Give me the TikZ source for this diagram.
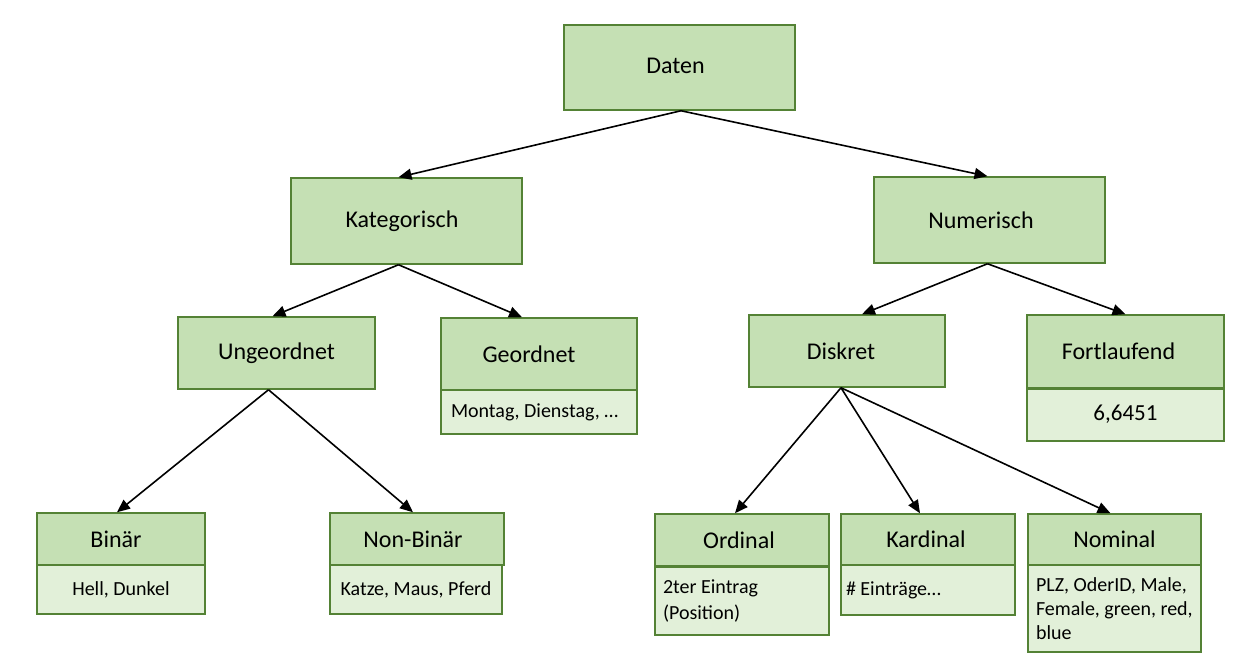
\documentclass[tikz,border=0pt]{standalone}
\usepackage{fontspec}
\setmainfont{Carlito}
\usetikzlibrary{arrows.meta}
\definecolor{boxfill}{HTML}{C5E0B4}
\definecolor{subfill}{HTML}{E2F0D9}
\definecolor{boxline}{HTML}{548235}
\newcommand\normspace{\spaceskip=0pt\xspaceskip=0pt\relax}
\begin{document}
\begin{tikzpicture}[x=1pt,y=-1pt,
  box/.style={draw=boxline, fill=boxfill, line width=1.5pt, inner sep=0pt, font=\fontsize{24}{29}\selectfont},
  sub/.style={draw=boxline, fill=subfill, line width=1.5pt, inner sep=0pt, font=\fontsize{20}{25}\selectfont},
  arr/.style={-{Triangle[length=13pt,width=11pt]}, line width=1.6pt, black}]
\useasboundingbox (0,0) rectangle (1235,657);
% sub boxes
\node[sub, minimum width=196pt, minimum height=44pt, text width=176pt, inner xsep=10pt, align=left] (geosub) at (539,412) {\normspace\mbox{Montag, Dienstag, …}};
\node[sub, minimum width=197pt, minimum height=53pt, font=\fontsize{23}{28}\selectfont] (fortsub) at (1125.5,414.5) {6,6451};
\node[sub, minimum width=168pt, minimum height=49pt] (binsub) at (121,589.5) {Hell, Dunkel};
\node[sub, minimum width=172pt, minimum height=49pt] (nonsub) at (416,589.5) {Katze, Maus, Pferd};
\node[sub, minimum height=68pt, text width=158pt, inner xsep=8pt, align=left, font=\fontsize{20}{26}\selectfont] (ordsub) at (742,601) {\normspace\mbox{2ter Eintrag}\\\mbox{(Position)}};
\node[sub, minimum height=50pt, text width=164pt, inner xsep=5pt, align=left] (kardsub) at (928,590) {\normspace\mbox{\# Einträge…}};
\node[sub, minimum height=87pt, text width=157pt, inner xsep=8pt, align=left, font=\fontsize{20}{24}\selectfont] (nomsub) at (1114.5,608.5) {\normspace\mbox{PLZ, OderID, Male,}\\\mbox{Female, green, red,}\\\mbox{blue}};
% main boxes
\node[box, minimum width=231pt, minimum height=85pt] (daten) at (679.5,67.5) {\raisebox{3pt}{Daten}\hspace*{8pt}};
\node[box, minimum width=231pt, minimum height=86pt] (kat) at (406.5,221) {\raisebox{1.5pt}{Kategorisch}\hspace*{9pt}};
\node[box, minimum width=231pt, minimum height=86pt] (num) at (989.5,220) {Numerisch\hspace*{17pt}};
\node[box, minimum width=197pt, minimum height=72pt] (ung) at (276.5,353) {Ungeordnet};
\node[box, minimum width=196pt, minimum height=72pt] (geo) at (539,354) {Geordnet\hspace*{20pt}};
\node[box, minimum width=196pt, minimum height=72pt] (dis) at (847,351) {Diskret\hspace*{12pt}};
\node[box, minimum width=197pt, minimum height=73pt] (fort) at (1125.5,351.5) {Fortlaufend\hspace*{14pt}};
\node[box, minimum width=168pt, minimum height=52pt] (bin) at (121,539) {Binär\hspace*{10pt}};
\node[box, minimum width=174pt, minimum height=52pt] (non) at (417,539) {Non-Binär\hspace*{8pt}};
\node[box, minimum width=174pt, minimum height=52pt] (ord) at (742,540) {Ordinal\hspace*{6pt}};
\node[box, minimum width=174pt, minimum height=51pt] (kard) at (928,539.5) {Kardinal\hspace*{4pt}};
\node[box, minimum width=173pt, minimum height=51pt] (nom) at (1114.5,539.5) {Nominal};
% thicker separators
\draw[boxline, line width=3pt] (ord.south west) -- (ord.south east);
\draw[boxline, line width=3pt] (fort.south west) -- (fort.south east);
% arrows
\draw[arr] ([xshift=1.5pt]daten.south) -- ([xshift=-8pt]kat.north);
\draw[arr] ([xshift=1.5pt]daten.south) -- ([xshift=-2pt]num.north);
\draw[arr] ([xshift=-8pt]kat.south) -- ([xshift=-4pt]ung.north);
\draw[arr] ([xshift=-8pt]kat.south) -- ([xshift=-17pt]geo.north);
\draw[arr] ([xshift=-2pt]num.south) -- ([xshift=15pt]dis.north);
\draw[arr] ([xshift=-2pt]num.south) -- (fort.north);
\draw[arr] ([xshift=-8pt]ung.south) -- ([xshift=-4pt]bin.north);
\draw[arr] ([xshift=-8pt]ung.south) -- ([xshift=-4pt]non.north);
\draw[arr] ([xshift=-6pt]dis.south) -- ([xshift=-7pt]ord.north);
\draw[arr] ([xshift=-6pt]dis.south) -- ([xshift=-8pt]kard.north);
\draw[arr] ([xshift=-6pt]dis.south) -- ([xshift=-4pt]nom.north);
\end{tikzpicture}
\end{document}
